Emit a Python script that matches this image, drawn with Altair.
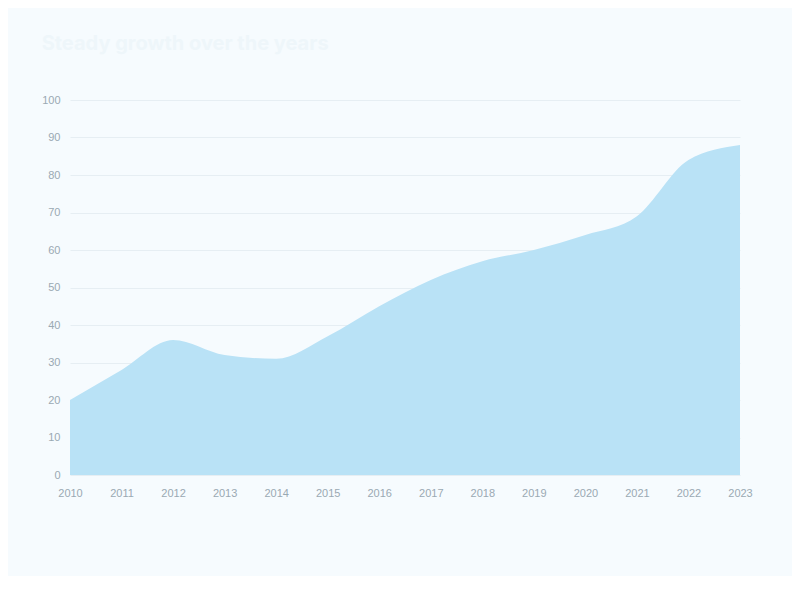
import altair as alt
import pandas as pd

years = [str(y) for y in range(2010, 2024)]
values = [20, 28, 36, 32, 31, 37, 45, 52, 57, 60, 64, 69, 84, 88]

df = pd.DataFrame({"year": years, "value": values})

area = alt.Chart(df).mark_area(color="#b9e2f6", opacity=1, interpolate="monotone").encode(
    x=alt.X("year:O", title=None, scale=alt.Scale(padding=0),
            axis=alt.Axis(labelAngle=0, labelColor="#9aa9b3", domain=False, ticks=False,
                          labelFontSize=11, labelPadding=12)),
    y=alt.Y("value:Q", title=None, scale=alt.Scale(domain=[0, 100]),
            axis=alt.Axis(labelColor="#9aa9b3", domain=False, ticks=False, gridColor="#e6eef3",
                          labelFontSize=11, labelPadding=10)),
)

chart = area.properties(
    width=670,
    height=375,
    autosize=alt.AutoSizeParams(type="none"),
    padding={"left": 62, "top": 92, "right": 52, "bottom": 101},
    title=alt.TitleParams("Steady growth over the years", anchor="start", fontSize=20,
                          color="#eef6fa", offset=40, font="Inter"),
).configure(background="#f6fbfe").configure_view(stroke=None)

chart.save("out.html", embed_options={"renderer": "svg", "actions": False})
